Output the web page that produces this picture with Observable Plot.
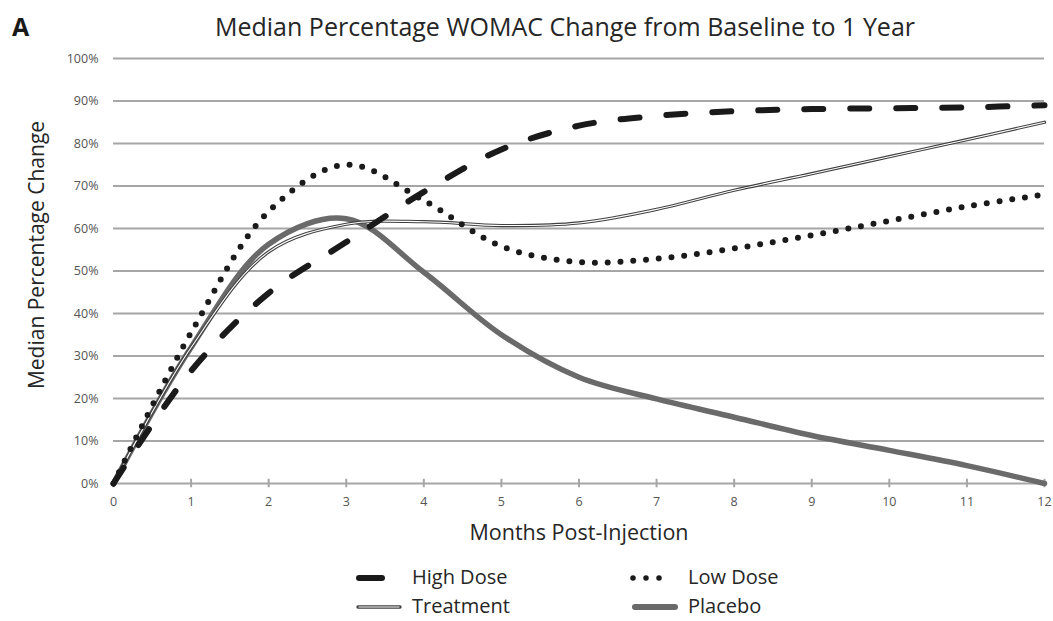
<!DOCTYPE html>
<html><head><meta charset="utf-8">
<script src="https://cdn.jsdelivr.net/npm/d3@7"></script>
<script src="https://cdn.jsdelivr.net/npm/@observablehq/plot@0.6"></script>
<style>
body{margin:0;background:#fff;font-family:"Open Sans",sans-serif;}
#wrap{position:relative;width:1053px;height:621px;overflow:hidden;background:#fff;}
#chart{position:absolute;left:0;top:50px;}
.t{position:absolute;white-space:nowrap;line-height:1;color:#262626;}
#panel{left:12px;top:14px;font-size:25px;font-weight:bold;color:#1a1a1a;}
#title{left:565px;top:14px;font-size:25px;transform:translateX(-50%);}
#ytitle{left:36px;top:255px;font-size:21px;transform:translate(-50%,-50%) rotate(-90deg);}
#xtitle{left:579px;top:532px;font-size:21.5px;transform:translate(-50%,-50%);}
.lg{position:absolute;font-size:20px;line-height:1.1;color:#262626;transform:translateY(-50%);white-space:nowrap;}
.sw{position:absolute;transform:translateY(-50%);}
</style></head><body>
<div id="wrap">
  <div id="panel" class="t">A</div>
  <div id="title" class="t">Median Percentage WOMAC Change from Baseline to 1 Year</div>
  <div id="chart"></div>
  <div id="ytitle" class="t">Median Percentage Change</div>
  <div id="xtitle" class="t">Months Post-Injection</div>
  <div id="legend"></div>
</div>
<script>
// ---- data ----
const months = [0, 1, 2, 3, 4, 5, 6, 7, 8, 9, 10, 11, 12];
const highDose  = [0, 26.5, 44.8, 56.8, 68.6, 78.6, 84.2, 86.5, 87.6, 88.1, 88.3, 88.5, 89];
const lowDose   = [0, 35.5, 64, 75, 66.6, 55.8, 52.1, 52.9, 55.3, 58.4, 61.8, 65.2, 68];
const treatment = [0, 32, 54.5, 61, 61.6, 60.7, 61.3, 64.5, 69, 72.9, 76.9, 80.9, 85];
const placebo   = [0, 32, 56.3, 62.3, 49.7, 35, 25, 19.9, 15.6, 11.3, 7.8, 4.2, 0];
const yTicks = [0, 10, 20, 30, 40, 50, 60, 70, 80, 90, 100];
const xTicks = months;
const seriesNames = ["High Dose", "Low Dose", "Treatment", "Placebo"];

const rows = (arr, name) => months.map((m, i) => ({month: m, value: arr[i], series: name}));
const hd = rows(highDose, seriesNames[0]);
const ld = rows(lowDose, seriesNames[1]);
const tr = rows(treatment, seriesNames[2]);
const pl = rows(placebo, seriesNames[3]);

const curve = "catmull-rom";
const chart = Plot.plot({
  width: 1053,
  height: 498,
  marginLeft: 113,
  marginRight: 9,
  marginTop: 8,
  marginBottom: 65,
  style: {fontFamily: "Open Sans, sans-serif", fontSize: "12.5px", color: "#555555", background: "#fff"},
  x: {domain: [0, 12]},
  y: {domain: [0, 100]},
  marks: [
    Plot.ruleY(yTicks, {stroke: "#a6a6a6", strokeWidth: 2}),
    Plot.ruleX(xTicks, {y1: -1, y2: 1, stroke: "#a6a6a6", strokeWidth: 2}),
    Plot.axisY({ticks: yTicks, tickSize: 0, tickPadding: 15, tickFormat: d => d + "%", label: null}),
    Plot.axisX({ticks: xTicks, tickSize: 0, tickPadding: 14, tickFormat: d => String(d), label: null}),
    Plot.line(pl, {x: "month", y: "value", stroke: "#6a6a6a", strokeWidth: 5.5, curve}),
    Plot.line(tr, {x: "month", y: "value", stroke: "#404040", strokeWidth: 3.3, curve}),
    Plot.line(tr, {x: "month", y: "value", stroke: "#ffffff", strokeWidth: 1.1, curve}),
    Plot.line(ld, {x: "month", y: "value", stroke: "#1a1a1a", strokeWidth: 6, strokeDasharray: "0,12.8", strokeLinecap: "round", curve}),
    Plot.line(hd, {x: "month", y: "value", stroke: "#1a1a1a", strokeWidth: 6, strokeDasharray: "19,27", strokeLinecap: "round", curve})
  ]
});
document.getElementById("chart").appendChild(chart);

// ---- legend ----
const legend = document.getElementById("legend");
const items = [
  {name: seriesNames[0], sx: 355, tx: 412, y: 577,
   svg: '<svg width="32" height="10"><line x1="4" y1="5" x2="27" y2="5" stroke="#1a1a1a" stroke-width="6" stroke-linecap="round"/></svg>'},
  {name: seriesNames[1], sx: 628, tx: 688, y: 577,
   svg: '<svg width="40" height="10"><line x1="5" y1="5" x2="31.5" y2="5" stroke="#1a1a1a" stroke-width="5.5" stroke-dasharray="0,13" stroke-linecap="round"/></svg>'},
  {name: seriesNames[2], sx: 356, tx: 412, y: 606,
   svg: '<svg width="48" height="10"><line x1="2" y1="5" x2="44" y2="5" stroke="#404040" stroke-width="3.3" stroke-linecap="round"/><line x1="2.5" y1="5" x2="43.5" y2="5" stroke="#fff" stroke-width="1.1"/></svg>'},
  {name: seriesNames[3], sx: 629, tx: 688, y: 606,
   svg: '<svg width="52" height="10"><line x1="6" y1="5" x2="46" y2="5" stroke="#6a6a6a" stroke-width="6" stroke-linecap="round"/></svg>'}
];
for (const it of items) {
  const s = document.createElement("div");
  s.className = "sw"; s.style.left = it.sx + "px"; s.style.top = it.y + "px";
  s.innerHTML = it.svg; legend.appendChild(s);
  const t = document.createElement("div");
  t.className = "lg"; t.style.left = it.tx + "px"; t.style.top = it.y + "px";
  t.textContent = it.name; legend.appendChild(t);
}
</script>
</body></html>
